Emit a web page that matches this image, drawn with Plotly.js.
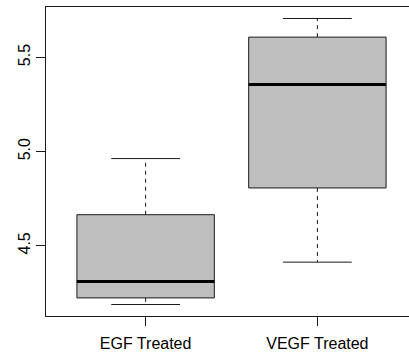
<!DOCTYPE html>
<html><head><meta charset="utf-8">
<script src="https://cdn.plot.ly/plotly-3.0.1.min.js"></script>
<style>html,body{margin:0;padding:0;overflow:hidden;background:#fff;width:409px;height:357px}</style>
</head><body><div id="plot"></div>
<script>
const groups = ['EGF Treated', 'VEGF Treated'];
const positions = [1, 2];
const lowerWhisker = [4.188, 4.413];
const q1Values = [4.223, 4.807];
const medianValues = [4.310, 5.356];
const q3Values = [4.665, 5.608];
const upperWhisker = [4.963, 5.707];
const yTicks = [4.5, 5.0, 5.5];
const yTickText = ['4.5', '5.0', '5.5'];

const boxWidth = 0.8;
const traces = [];
groups.forEach((g, i) => {
  const p = positions[i];
  traces.push({
    type: 'box', name: g, x: [p],
    q1: [q1Values[i]], median: [medianValues[i]], q3: [q3Values[i]],
    lowerfence: [q1Values[i]], upperfence: [q3Values[i]],
    width: boxWidth, whiskerwidth: 0,
    fillcolor: '#bebebe', line: {color: '#1a1a1a', width: 1},
    hoverinfo: 'skip', showlegend: false
  });
  traces.push({
    type: 'scatter', mode: 'lines', x: [p, p, null, p, p],
    y: [q3Values[i], upperWhisker[i], null, q1Values[i], lowerWhisker[i]],
    line: {color: '#1a1a1a', width: 1, dash: '4px,4px'},
    hoverinfo: 'skip', showlegend: false
  });
  traces.push({
    type: 'scatter', mode: 'lines',
    x: [p - boxWidth / 4, p + boxWidth / 4, null, p - boxWidth / 4, p + boxWidth / 4],
    y: [upperWhisker[i], upperWhisker[i], null, lowerWhisker[i], lowerWhisker[i]],
    line: {color: '#1a1a1a', width: 1},
    hoverinfo: 'skip', showlegend: false
  });
  traces.push({
    type: 'scatter', mode: 'lines',
    x: [p - boxWidth / 2, p + boxWidth / 2],
    y: [medianValues[i], medianValues[i]],
    line: {color: '#000', width: 3},
    hoverinfo: 'skip', showlegend: false
  });
});

const layout = {
  width: 417, height: 357,
  margin: {l: 46, r: 0, t: 7, b: 41},
  paper_bgcolor: '#fff', plot_bgcolor: '#fff',
  font: {family: 'Liberation Sans, Arial, sans-serif', size: 16, color: '#000'},
  boxmode: 'overlay', showlegend: false,
  xaxis: {
    range: [0.42, 2.58], tickvals: positions, ticktext: groups,
    ticks: 'outside', ticklen: 9, tickcolor: '#1a1a1a', tickwidth: 1,
    ticklabelstandoff: 4,
    showline: true, mirror: true, linecolor: '#1a1a1a', linewidth: 1,
    showgrid: false, zeroline: false, fixedrange: true
  },
  yaxis: {
    range: [4.127, 5.768], tickvals: yTicks, ticktext: yTickText,
    tickangle: -90,
    ticks: 'outside', ticklen: 9, tickcolor: '#1a1a1a', tickwidth: 1,
    showline: true, mirror: false, linecolor: '#1a1a1a', linewidth: 1,
    showgrid: false, zeroline: false, fixedrange: true
  }
};
Plotly.newPlot('plot', traces, layout, {displayModeBar: false, staticPlot: true});
</script></body></html>
